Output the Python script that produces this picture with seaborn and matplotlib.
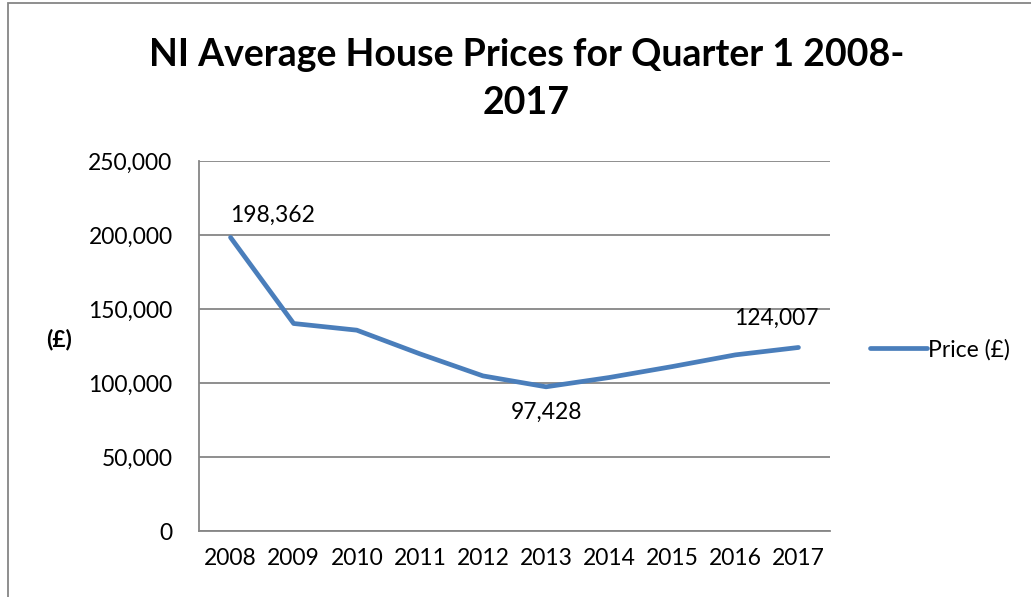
import numpy as np
import pandas as pd
import seaborn as sns
import matplotlib.pyplot as plt
from matplotlib.patches import Rectangle
from matplotlib.ticker import FuncFormatter

# Q1 average prices
years = ["2008", "2009", "2010", "2011", "2012", "2013", "2014", "2015", "2016", "2017"]
prices = [198362, 140200, 135700, 119700, 104800, 97428, 103700, 111100, 119000, 124007]
labelled = {"2008": "198,362", "2013": "97,428", "2017": "124,007"}

df = pd.DataFrame({"Year": years, "Price": prices})
df["pos"] = np.arange(len(years))

sns.set_style("white")
plt.rcParams["font.family"] = ["Lato", "DejaVu Sans"]
plt.rcParams["text.color"] = "black"
plt.rcParams["xtick.color"] = "black"
plt.rcParams["ytick.color"] = "black"
plt.rcParams["axes.labelcolor"] = "black"

fig = plt.figure(figsize=(10.31, 5.97), dpi=100)
ax = fig.add_axes([199 / 1031, 1 - 531 / 597, 631 / 1031, 370 / 597])

sns.lineplot(data=df, x="pos", y="Price", ax=ax, color="#4a7ebb", linewidth=3.4,
             label="Price (£)", solid_capstyle="round", solid_joinstyle="round")

ax.set_ylim(0, 250000)
ax.set_yticks(np.arange(0, 250001, 50000))
ax.yaxis.set_major_formatter(FuncFormatter(lambda v, p: f"{int(v):,}"))
ax.set_xlim(-0.5, len(years) - 0.5)
ax.set_xticks(np.arange(-0.5, len(years)), labels=[""] * (len(years) + 1))
ax.set_xticks(df["pos"], labels=years, minor=True)
ax.tick_params(axis="x", which="major", length=7, width=1.3, color="#868686", direction="out")
ax.tick_params(axis="x", which="minor", length=0, labelsize=16.5, pad=12)
ax.tick_params(axis="y", length=7, width=1.3, color="#868686", direction="out", labelsize=16.5, pad=12)
ax.grid(axis="y", color="#868686", linewidth=1.3)
ax.set_axisbelow(True)
for s in ["top", "right"]:
    ax.spines[s].set_visible(False)
for s in ["left", "bottom"]:
    ax.spines[s].set_color("#868686")
    ax.spines[s].set_linewidth(1.3)
ax.set_xlabel("")
ax.set_ylabel("(£)", rotation=0, fontsize=16.5, fontweight="bold", labelpad=0)
ax.yaxis.set_label_coords(-0.222, 0.488)

offsets = {"2008": (0, 22, "left"), "2013": (0, -26, "center"), "2017": (-22, 29, "center")}
for _, r in df.iterrows():
    if r["Year"] in labelled:
        dx, dy, ha = offsets[r["Year"]]
        ax.annotate(labelled[r["Year"]], (r["pos"], r["Price"]), xytext=(dx * 0.72, dy * 0.72),
                    textcoords="offset points", ha=ha, va="center", fontsize=16.5)

leg = ax.legend(loc="center left", bbox_to_anchor=(1.03, 0.49), frameon=False,
                fontsize=16.5, handlelength=2.5, handletextpad=0.05)

title_lines = ["NI Average House Prices for Quarter 1 2008-", "2017"]
for line, ypx in zip(title_lines, [55, 103]):
    fig.text(0.5105, 1 - ypx / 597, line, ha="center", va="center", fontsize=27, fontweight="bold")

fig.patches.append(Rectangle((8 / 1031, -0.1), 1.2, 1.1 - 3 / 597, transform=fig.transFigure,
                             fill=False, edgecolor="#868686", linewidth=1.3))

fig.savefig("out.png", dpi=100)
